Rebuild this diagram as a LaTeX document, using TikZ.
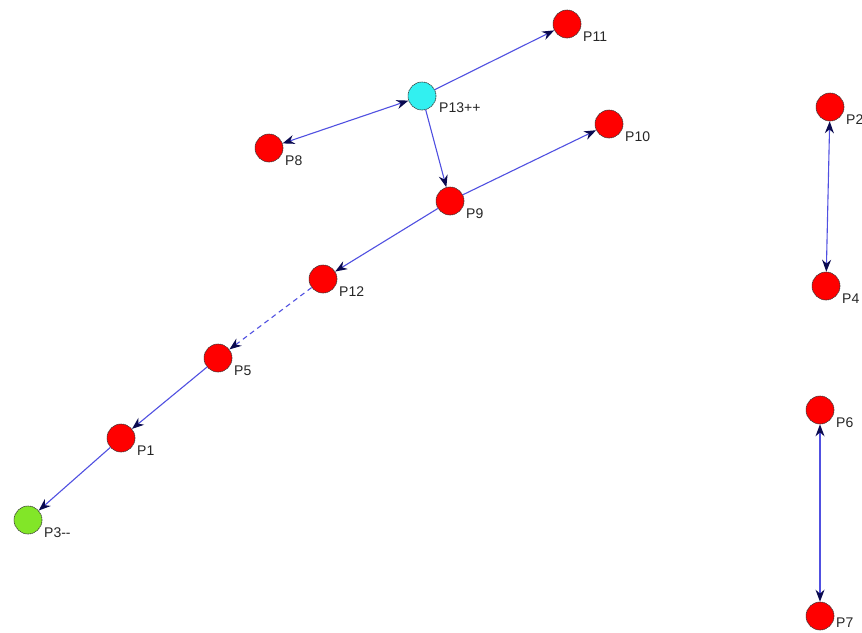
\documentclass[tikz,border=0pt]{standalone}
\usepackage{fontspec}
\setmainfont{Liberation Sans}
\usetikzlibrary{arrows.meta}
\definecolor{edgeblue}{RGB}{80,80,225}
\definecolor{tipnavy}{RGB}{10,10,80}
\definecolor{nodered}{RGB}{255,0,0}
\definecolor{nodecyan}{RGB}{50,240,240}
\definecolor{nodegreen}{RGB}{130,230,40}
\tikzset{
  pnode/.style={circle, draw=black!80, line width=0.6pt, dash pattern=on 1.5pt off 0.6pt, minimum size=28pt, inner sep=0pt, fill=nodered},
  plabel/.style={anchor=west, font=\fontsize{14}{15}\selectfont, inner sep=0pt, text=black!85},
  edge/.style={draw=edgeblue, line width=1.1pt, -{Stealth[length=12pt,width=9pt,color=tipnavy]}},
  bedge/.style={draw=edgeblue, line width=1.1pt, {Stealth[length=12pt,width=9pt,color=tipnavy]}-{Stealth[length=12pt,width=9pt,color=tipnavy]}},
  dedge/.style={edge, dash pattern=on 5pt off 4pt}
}
\begin{document}
\begin{tikzpicture}[x=1pt,y=-1pt]
\useasboundingbox (0,0) rectangle (862,632);
\fill[white] (0,0) rectangle (862,632);
% nodes
\node[pnode] (p11) at (567,24) {};
\node[pnode, fill=nodecyan] (p13) at (422,96) {};
\node[pnode] (p8) at (269,148) {};
\node[pnode] (p10) at (609,124) {};
\node[pnode] (p9) at (450,201) {};
\node[pnode] (p12) at (323,279) {};
\node[pnode] (p5) at (218,358) {};
\node[pnode] (p1) at (121,438) {};
\node[pnode, fill=nodegreen] (p3) at (28,520) {};
\node[pnode] (p2) at (830,107) {};
\node[pnode] (p4) at (826,286) {};
\node[pnode] (p6) at (820,410) {};
\node[pnode] (p7) at (820,616) {};
% labels
\node[plabel] (l11) at (583,37) {P11};
\node[plabel] (l13) at (439,108) {P13++};
\node[plabel] (l8) at (285,161) {P8};
\node[plabel] (l10) at (625,137) {P10};
\node[plabel] (l9) at (466,214) {P9};
\node[plabel] (l12) at (339,292) {P12};
\node[plabel] (l5) at (234,371) {P5};
\node[plabel] (l1) at (137,451) {P1};
\node[plabel] (l3) at (44,533) {P3-{}-};
\node[plabel] (l2) at (846,120) {P2};
\node[plabel] (l4) at (842,299) {P4};
\node[plabel] (l6) at (836,423) {P6};
\node[plabel] (l7) at (836,623) {P7};
% edges
\draw[edge] (p13) -- (p11);
\draw[bedge] (p8) -- (p13);
\draw[edge] (p13) -- (p9);
\draw[edge] (p9) -- (p10);
\draw[edge] (p9) -- (p12);
\draw[dedge] (p12) -- (p5);
\draw[edge] (p5) -- (p1);
\draw[edge] (p1) -- (p3);
\draw[bedge] (p2) -- (p4);
\draw[bedge] (p6) -- (p7);
\end{tikzpicture}
\end{document}
